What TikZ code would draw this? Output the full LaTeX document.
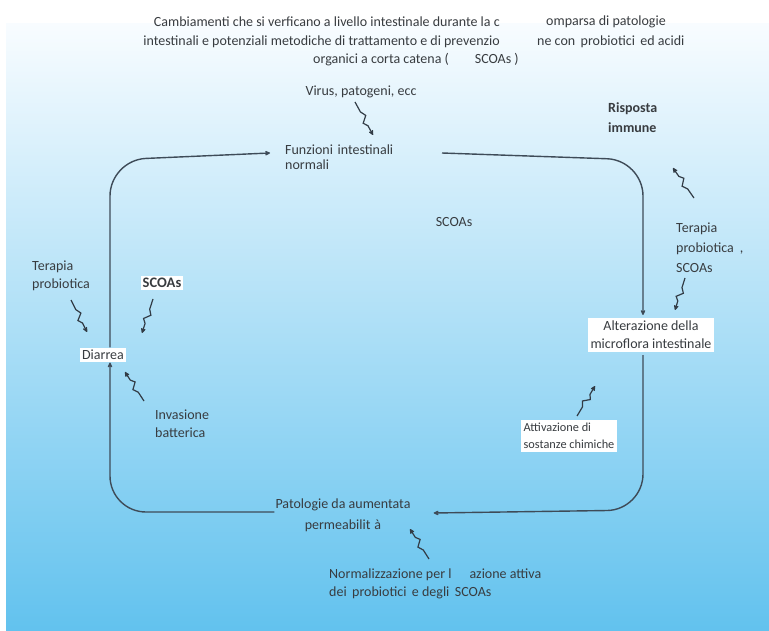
\documentclass[tikz,border=0pt]{standalone}
\usepackage{fontspec}
\setmainfont{Carlito}
\usetikzlibrary{arrows.meta,calc}
\definecolor{txt}{HTML}{383C40}
\definecolor{ln}{HTML}{3E4B58}
\definecolor{bgtop}{HTML}{F8FCFF}
\definecolor{bgmid}{HTML}{C2E5F8}
\definecolor{bgbot}{HTML}{62C2EE}
\newcommand{\sqarrow}[2]{\draw[sq] (#1) -- ($(#1)!0.3!(#2)$) -- ($(#1)!0.45!(#2)!3pt!90:(#2)$) -- ($(#1)!0.6!(#2)!3pt!-90:(#2)$) -- ($(#1)!0.72!(#2)$) -- (#2);}
\tikzset{
  lbl/.style={inner sep=1pt, text=txt, font=\fontsize{14}{18}\selectfont},
  whitebox/.style={lbl, fill=white, inner sep=3pt},
  flow/.style={draw=ln, line width=1.4pt, rounded corners=36pt, -{Stealth[round,length=6.5pt,width=6pt]}},
  sq/.style={draw=ln!80!black, line width=1.2pt, -{Stealth[round,length=6.5pt,width=6pt]}},
}
\begin{document}
\begin{tikzpicture}[x=1pt,y=-1pt]
\useasboundingbox (0,0) rectangle (769,631);
\fill[white] (0,0) rectangle (769,631);
\shade[top color=bgtop, middle color=bgmid, bottom color=bgbot] (6,24) rectangle (769,631);

% title
\node[lbl, anchor=east] (t1a) at (501,22) {Cambiamenti che si verficano a livello intestinale durante la c};
\node[lbl, anchor=west] (t1b) at (545,22) {omparsa di patologie};
\node[lbl, anchor=east] (t2a) at (501,42) {intestinali e potenziali metodiche di trattamento e di prevenzio};
\node[lbl, anchor=west] (t2b) at (536,42) {ne con\, probiotici\, ed acidi};
\node[lbl, anchor=west] (t3) at (312,60) {organici a corta catena (\hspace{26pt}SCOAs )};

% main nodes
\node[lbl, text width=150pt, align=left, anchor=west, font=\fontsize{14}{15}\selectfont] (funz) at (284,157) {Funzioni intestinali\\normali};
\node[whitebox, align=center] (alt) at (651,335) {Alterazione della\\microflora intestinale};
\node[lbl, align=center, font=\fontsize{14}{21}\selectfont] (pat) at (343,515) {Patologie da aumentata\\permeabilit\hspace{4pt}à};
\node[whitebox, inner sep=2.5pt] (diar) at (103,355) {Diarrea};

% labels
\node[lbl] (vir) at (361,92) {Virus, patogeni, ecc};
\node[lbl, align=left, anchor=west, font=\bfseries\fontsize{14}{20}\selectfont] (risp) at (607,118) {Risposta\\immune};
\node[lbl] (scmid) at (454,222) {SCOAs};
\node[lbl, align=left, anchor=west] (terL) at (31,276) {Terapia\\probiotica};
\node[whitebox, inner sep=2pt, font=\bfseries\fontsize{14.5}{16}\selectfont] (scoL) at (162,283) {SCOAs};
\node[lbl, align=left, anchor=west] (inv) at (154,424) {Invasione\\batterica};
\node[lbl, align=left, anchor=west, font=\fontsize{14}{20}\selectfont] (terR) at (675,248) {Terapia\\probiotica\hspace{6pt},\\SCOAs};
\node[whitebox, align=left, font=\fontsize{12.3}{17}\selectfont] (att) at (569,436) {Attivazione di\\sostanze chimiche};
\node[lbl, align=left, anchor=west] (norm) at (328,584) {Normalizzazione per l\hspace{18pt}azione attiva\\dei\, probiotici\, e degli\, SCOAs};

% cycle
\coordinate (rdown) at (643,315);
\coordinate (rup) at (643,355);
\coordinate (patE) at ($(pat.east)+(22,-2)$);
\draw[flow] (442,153) -- (643,160) -- (rdown);
\draw[flow] (rup) -- (643,510) -- (patE);
\draw[flow] (pat.west |- 0,512) -- (110,512) -- (diar.south -| 110,0);
\draw[flow] (diar.north -| 110,0) -- (110,160) -- (270,153);

% squiggle arrows
\coordinate (hvir) at (373,135);
\coordinate (tvir) at (355,102);
\sqarrow{tvir}{hvir}
\coordinate (hrisp) at (673,168);
\coordinate (trisp) at (694,198);
\sqarrow{trisp}{hrisp}
\coordinate (hterR) at (675,310);
\coordinate (tterR) at (685,278);
\sqarrow{tterR}{hterR}
\coordinate (hatt) at (595,386);
\coordinate (tatt) at (577,416);
\sqarrow{tatt}{hatt}
\coordinate (hnorm) at (410,529);
\coordinate (tnorm) at (429,559);
\sqarrow{tnorm}{hnorm}
\coordinate (hterL) at (87,332);
\coordinate (tterL) at (71,300);
\sqarrow{tterL}{hterL}
\coordinate (hscoL) at (142,333);
\coordinate (tscoL) at (153,299);
\sqarrow{tscoL}{hscoL}
\coordinate (hinv) at (125,372);
\coordinate (tinv) at (144,401);
\sqarrow{tinv}{hinv}
\end{tikzpicture}
\end{document}
